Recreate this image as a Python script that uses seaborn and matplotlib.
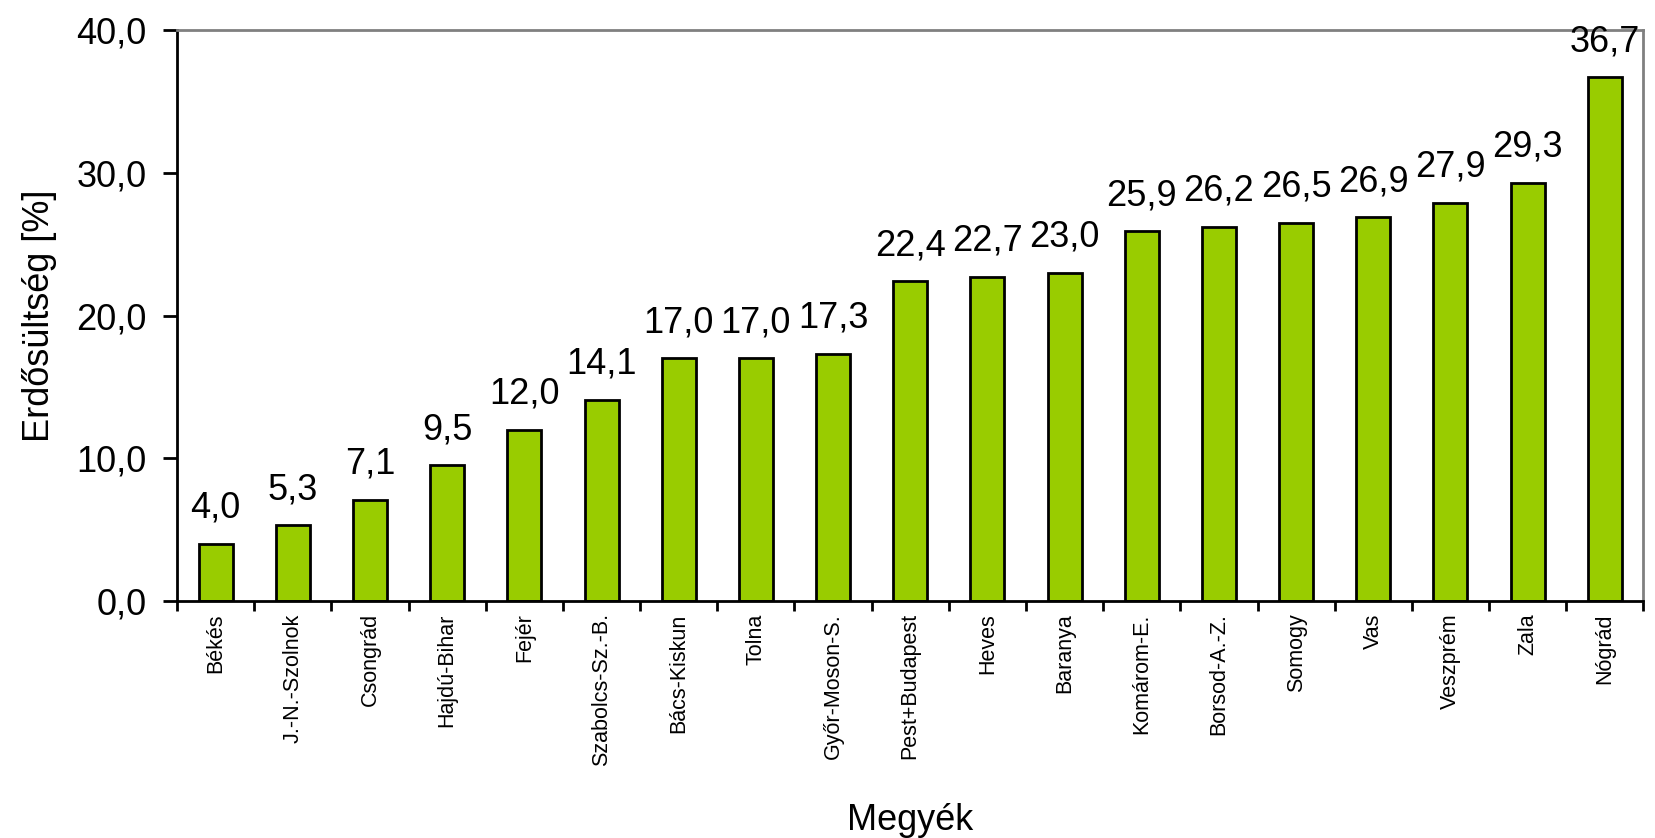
import matplotlib
matplotlib.use("Agg")
import matplotlib.pyplot as plt
import seaborn as sns
import pandas as pd
import numpy as np

counties = ["Békés", "J.-N.-Szolnok", "Csongrád", "Hajdú-Bihar", "Fejér",
            "Szabolcs-Sz.-B.", "Bács-Kiskun", "Tolna", "Győr-Moson-S.",
            "Pest+Budapest", "Heves", "Baranya", "Komárom-E.", "Borsod-A.-Z.",
            "Somogy", "Vas", "Veszprém", "Zala", "Nógrád"]
forest_pct = [4.0, 5.3, 7.1, 9.5, 12.0, 14.1, 17.0, 17.0, 17.3, 22.4,
              22.7, 23.0, 25.9, 26.2, 26.5, 26.9, 27.9, 29.3, 36.7]
y_ticks = [0, 10, 20, 30, 40]

df = pd.DataFrame({"megye": counties, "erdo": forest_pct})


def hu(v):
    return f"{v:.1f}".replace(".", ",")


sns.set_style("ticks")
plt.rcParams["font.family"] = ["Liberation Sans", "DejaVu Sans"]
plt.rcParams["text.color"] = "black"
plt.rcParams["axes.labelcolor"] = "black"
plt.rcParams["xtick.color"] = "black"
plt.rcParams["ytick.color"] = "black"

fig = plt.figure(figsize=(16.55, 8.38), dpi=100)
ax = fig.add_axes([0.107, 0.283, 0.886, 0.681])

sns.barplot(data=df, x="megye", y="erdo", color="#99CC00", saturation=1,
            edgecolor="black", linewidth=2, width=0.44, ax=ax)

for c in ax.containers:
    ax.bar_label(c, labels=[hu(v) for v in forest_pct], padding=13,
                 fontsize=26, color="black", clip_on=False)

ax.set_ylim(0, 40)
ax.set_xlim(-0.5, len(counties) - 0.5)
ax.set_yticks(y_ticks)
ax.set_yticklabels([hu(v) for v in y_ticks], fontsize=26)
ax.tick_params(axis="y", length=10, width=2, pad=12)

ax.set_xticks(range(len(counties)))
ax.set_xticklabels(counties, rotation=90, fontsize=15.5)
ax.tick_params(axis="x", which="major", length=0, pad=9)
ax.set_xticks(np.arange(-0.5, len(counties), 1), minor=True)
ax.tick_params(axis="x", which="minor", length=7, width=2)

for side in ["left", "bottom"]:
    ax.spines[side].set_color("black")
    ax.spines[side].set_linewidth(2)
for side in ["top", "right"]:
    ax.spines[side].set_visible(True)
    ax.spines[side].set_color("#808080")
    ax.spines[side].set_linewidth(2)

ax.set_xlabel("Megyék", fontsize=26, labelpad=26)
ax.set_ylabel("Erdősültség [%]", fontsize=26, labelpad=14)

fig.savefig("out.png", dpi=100)
plt.close(fig)
